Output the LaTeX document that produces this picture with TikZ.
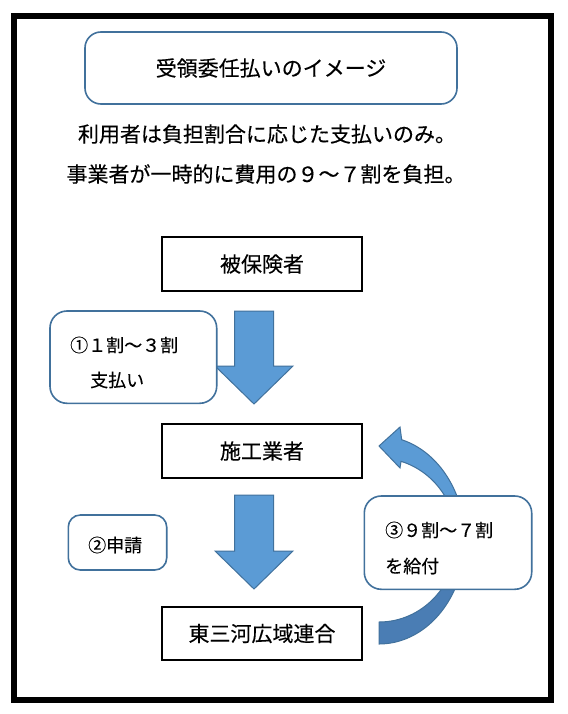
\documentclass[tikz,border=0pt]{standalone}
\usepackage{fontspec}
\setmainfont[FakeBold=0.25]{Noto Sans CJK JP}
\definecolor{arrowfill}{HTML}{5B9BD5}
\definecolor{arrowdark}{HTML}{4A7DB4}
\definecolor{edgeblue}{HTML}{41719C}
\newcommand\bigtxt{\fontsize{21pt}{21pt}\selectfont}
\newcommand\smalltxt{\fontsize{18pt}{18pt}\selectfont}
\newcommand\myblockarrow[4]{%
  \filldraw[blockarrow] (#1-19.5,#2) -- (#1+19.5,#2) -- (#1+19.5,#3) -- (#1+39,#3)
    -- (#1,#4) -- (#1-39,#3) -- (#1-19.5,#3) -- cycle;}
\begin{document}
\begin{tikzpicture}[x=1pt,y=-1pt,
  blackbox/.style={draw=black,line width=2pt,fill=white,minimum width=200pt,minimum height=54pt,inner sep=0pt,font=\bigtxt},
  roundbox/.style={draw=edgeblue,line width=1.6pt,fill=white,rounded corners=16pt},
  blockarrow/.style={fill=arrowfill,draw=edgeblue,line width=1pt,line join=miter},
  plaintext/.style={inner sep=0pt,anchor=west}]
\useasboundingbox (0,0) rectangle (567,714);
\fill[white] (0,0) rectangle (567,714);
\draw[line width=6pt] (14,16) rectangle (550.5,700);
% title
\draw[roundbox] (85,32) rectangle (457,104);
\node[inner sep=0pt,font=\bigtxt] (title) at (271,68) {受領委任払いのイメージ};
\node[inner sep=0pt,font=\bigtxt] (line1) at (267,134) {利用者は負担割合に応じた支払いのみ。};
\node[inner sep=0pt,font=\bigtxt] (line2) at (266,174) {事業者が一時的に費用の９～７割を負担。};
% straight arrows
\myblockarrow{254}{311}{366}{404}
\myblockarrow{254}{495}{551}{589}
% curved arrow
\fill[arrowfill] (401.7,439.7) arc[start angle=74.7,end angle=0,x radius=86pt,y radius=104pt]
  -- (457,540) arc[start angle=0,end angle=73.6,x radius=78pt,y radius=82pt]
  -- (400,468) -- (379,446) -- (400,427) -- cycle;
\fill[arrowdark] (465,540) arc[start angle=0,end angle=-90,x radius=86pt,y radius=104pt]
  -- (379,622) arc[start angle=-90,end angle=0,x radius=78pt,y radius=82pt] -- cycle;
\draw[edgeblue,line width=1pt,line join=miter] (401.7,439.7) arc[start angle=74.7,end angle=-90,x radius=86pt,y radius=104pt]
  -- (379,622) arc[start angle=-90,end angle=73.6,x radius=78pt,y radius=82pt]
  -- (400,468) -- (379,446) -- (400,427) -- cycle;
% black boxes
\node[blackbox] (hk) at (262,264) {被保険者};
\node[blackbox] (sk) at (262,451) {施工業者};
\node[blackbox,minimum height=53pt] (hm) at (262,633.5) {東三河広域連合};
% rounded label boxes
\draw[roundbox,rounded corners=17pt] (50,311) rectangle (216.7,403.3);
\node[plaintext,font=\smalltxt] (l1a) at (70,345) {①１割～３割};
\node[plaintext,font=\smalltxt] (l1b) at (90,380) {支払い};
\draw[roundbox,rounded corners=12pt] (68.3,515) rectangle (166.7,570);
\node[plaintext,font=\smalltxt] (l2) at (88,545) {②申請};
\draw[roundbox,rounded corners=17pt] (364.3,496) rectangle (531.7,589.3);
\node[plaintext,font=\smalltxt] (l3a) at (385,530) {③９割～７割};
\node[plaintext,font=\smalltxt] (l3b) at (385,566) {を給付};
\end{tikzpicture}
\end{document}
